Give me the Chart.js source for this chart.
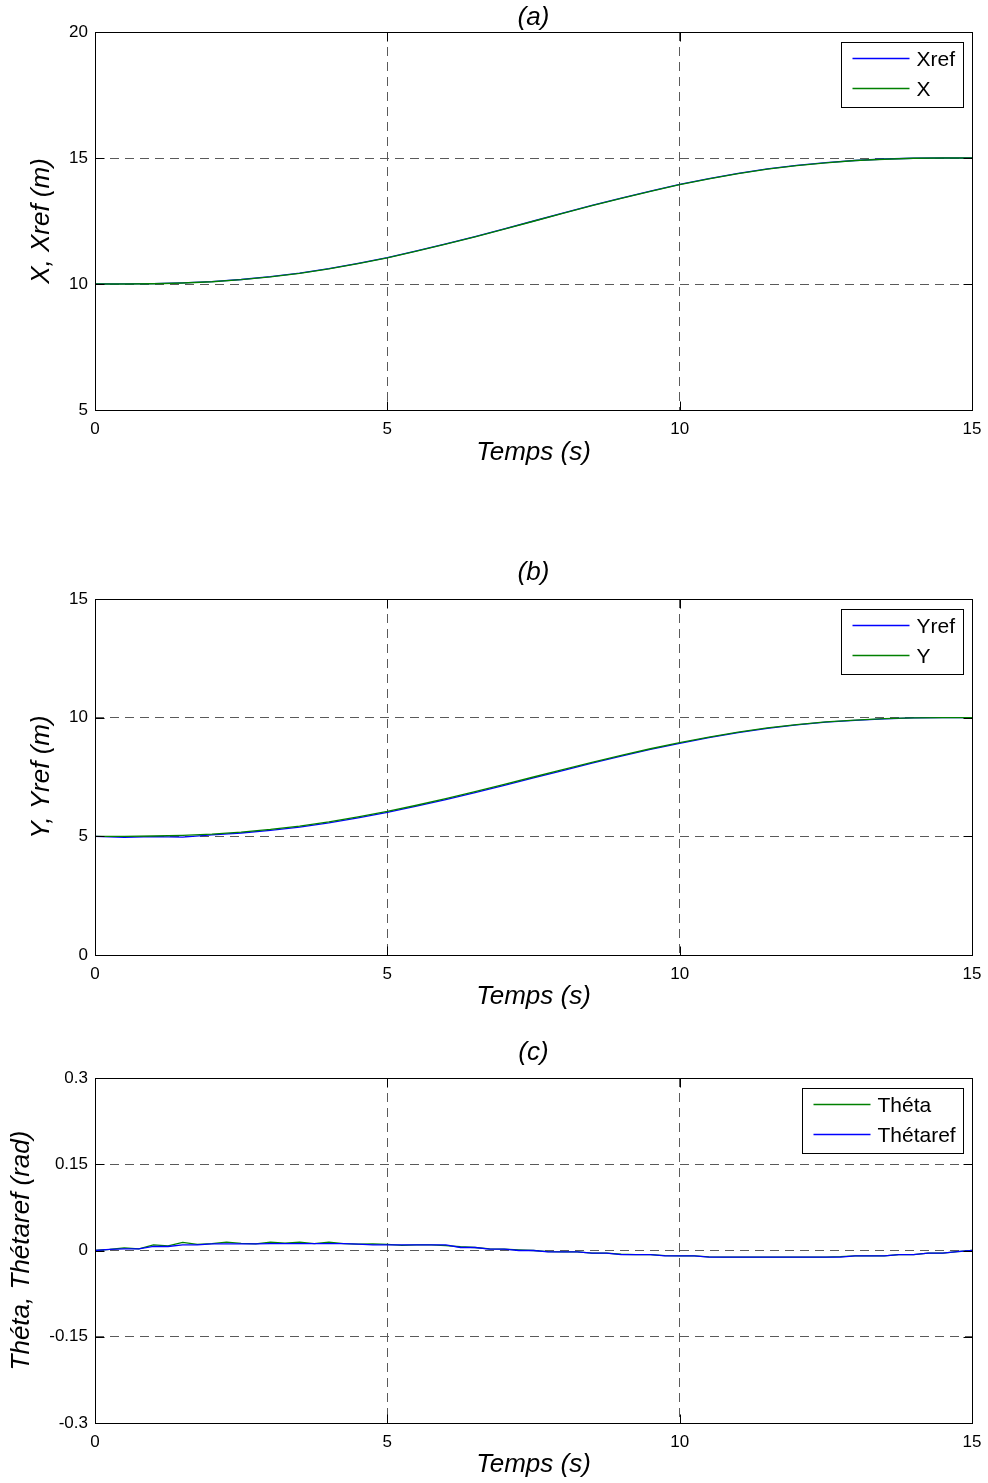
<!DOCTYPE html>
<html>
<head>
<meta charset="utf-8">
<title>Trajectoires X, Y, Théta</title>
<script src="https://cdn.jsdelivr.net/npm/chart.js@4.4.0/dist/chart.umd.min.js"></script>
<style>
    body { margin: 0; background: #fff; width: 988px; height: 1483px; position: relative; overflow: hidden; }
    canvas { position: absolute; left: 0; }
</style>
</head>
<body>
<canvas id="plotX" width="988" height="480" style="top:0px"></canvas>
<canvas id="plotY" width="988" height="470" style="top:555px"></canvas>
<canvas id="plotTheta" width="988" height="448" style="top:1035px"></canvas>
<script>
// temps (s)
const timeXY = [0, 0.5, 1, 1.5, 2, 2.5, 3, 3.5, 4, 4.5, 5, 5.5, 6, 6.5, 7, 7.5,
    8, 8.5, 9, 9.5, 10, 10.5, 11, 11.5, 12, 12.5, 13, 13.5, 14, 14.5, 15];

const xRef = [10, 10.002, 10.013, 10.043, 10.096, 10.178, 10.29, 10.43, 10.61, 10.82, 11.05,
    11.31, 11.59, 11.88, 12.19, 12.5, 12.81, 13.12, 13.41, 13.69, 13.95,
    14.18, 14.39, 14.57, 14.71, 14.82, 14.9, 14.96, 14.99, 15, 15];
const xReal = [10, 10.0, 10.01, 10.04, 10.09, 10.17, 10.28, 10.42, 10.6, 10.81, 11.04,
    11.3, 11.58, 11.87, 12.18, 12.49, 12.8, 13.11, 13.4, 13.68, 13.94,
    14.17, 14.38, 14.56, 14.7, 14.81, 14.9, 14.95, 14.99, 15, 15];

const yRef = [5, 4.96, 4.99, 4.97, 5.06, 5.14, 5.25, 5.39, 5.57, 5.78, 6.01,
    6.27, 6.55, 6.84, 7.15, 7.46, 7.77, 8.08, 8.38, 8.66, 8.92,
    9.16, 9.37, 9.55, 9.7, 9.81, 9.89, 9.95, 9.99, 10, 10];
const yReal = [5, 5.0, 5.013, 5.043, 5.096, 5.178, 5.29, 5.43, 5.61, 5.82, 6.05,
    6.31, 6.59, 6.88, 7.19, 7.5, 7.81, 8.12, 8.41, 8.69, 8.95,
    9.18, 9.39, 9.57, 9.71, 9.82, 9.9, 9.96, 9.99, 10, 10];

const timeTheta = [0, 0.25, 0.5, 0.75, 1, 1.25, 1.5, 1.75, 2, 2.25, 2.5, 2.75, 3, 3.25, 3.5, 3.75,
    4, 4.25, 4.5, 4.75, 5, 5.25, 5.5, 5.75, 6, 6.25, 6.5, 6.75, 7, 7.25, 7.5, 7.75,
    8, 8.25, 8.5, 8.75, 9, 9.25, 9.5, 9.75, 10, 10.25, 10.5, 10.75, 11, 11.25, 11.5, 11.75,
    12, 12.25, 12.5, 12.75, 13, 13.25, 13.5, 13.75, 14, 14.25, 14.5, 14.75, 15];
const thetaReal = [0, 0.002, 0.0046, 0.003, 0.0098, 0.008, 0.014, 0.0105, 0.012, 0.0145, 0.0125, 0.0116,
    0.0145, 0.013, 0.0145, 0.012, 0.0145, 0.012, 0.011, 0.0116, 0.0105, 0.009, 0.0098, 0.0098,
    0.0085, 0.0065, 0.0052, 0.003, 0.0023, 0.001, 0, -0.002, -0.0023, -0.0023, -0.0046, -0.0046,
    -0.0065, -0.007, -0.007, -0.0088, -0.0093, -0.0093, -0.0112, -0.0116, -0.0116, -0.0116,
    -0.0116, -0.0116, -0.0116, -0.0116, -0.0116, -0.0108, -0.0093, -0.0093, -0.0093, -0.007,
    -0.007, -0.0046, -0.0046, -0.002, 0];
const thetaRef = [0, 0.002, 0.003, 0.003, 0.007, 0.007, 0.0098, 0.0098, 0.0116, 0.0116, 0.0116, 0.0116,
    0.012, 0.012, 0.012, 0.012, 0.012, 0.012, 0.011, 0.0098, 0.0098, 0.0098, 0.0098, 0.0098,
    0.0098, 0.0052, 0.0052, 0.0023, 0.0023, 0, 0, -0.0023, -0.0023, -0.0023, -0.0046, -0.0046,
    -0.007, -0.007, -0.007, -0.0093, -0.0093, -0.0093, -0.0116, -0.0116, -0.0116, -0.0116,
    -0.0116, -0.0116, -0.0116, -0.0116, -0.0116, -0.0116, -0.0093, -0.0093, -0.0093, -0.007,
    -0.007, -0.0046, -0.0046, -0.002, 0];

const timeTicks = [0, 5, 10, 15];
const xTicks = [5, 10, 15, 20];
const yTicks = [0, 5, 10, 15];
const thetaTicks = [-0.3, -0.15, 0, 0.15, 0.3];

const BLUE = '#0000ff';
const GREEN = '#008000';
const FONT = '"Liberation Sans", Arial, sans-serif';

// cadre noir + petites graduations vers l'intérieur
const axesBox = {
    id: 'axesBox',
    afterDatasetsDraw(chart) {
        const {ctx, chartArea: a, scales} = chart;
        const L = Math.round(a.left) + 0.5, R = Math.round(a.right) + 0.5;
        const T = Math.round(a.top) + 0.5, B = Math.round(a.bottom) + 0.5;
        ctx.save();
        ctx.strokeStyle = '#000';
        ctx.lineWidth = 1;
        ctx.setLineDash([]);
        ctx.beginPath();
        scales.x.ticks.forEach(t => {
            const px = Math.round(scales.x.getPixelForValue(t.value)) + 0.5;
            ctx.moveTo(px, B); ctx.lineTo(px, B - 9);
            ctx.moveTo(px, T); ctx.lineTo(px, T + 9);
        });
        scales.y.ticks.forEach(t => {
            const py = Math.round(scales.y.getPixelForValue(t.value)) + 0.5;
            ctx.moveTo(L, py); ctx.lineTo(L + 9, py);
            ctx.moveTo(R, py); ctx.lineTo(R - 9, py);
        });
        ctx.stroke();
        ctx.strokeRect(L, T, R - L, B - T);
        ctx.restore();
    }
};

// légende encadrée en haut à droite
const boxLegend = {
    id: 'boxLegend',
    afterDraw(chart, args, opts) {
        const {ctx, chartArea: a} = chart;
        const items = opts.order.map(i => chart.data.datasets[i]);
        ctx.save();
        ctx.setLineDash([]);
        ctx.font = '21px ' + FONT;
        const textW = Math.max(...items.map(d => ctx.measureText(d.label).width));
        const w = Math.round(11 + 57 + 7 + textW + 8);
        const h = 65;
        const x = Math.round(a.right - 9 - w) + 0.5;
        const y = Math.round(a.top + 10) + 0.5;
        ctx.fillStyle = '#fff';
        ctx.fillRect(x, y, w, h);
        ctx.strokeStyle = '#000';
        ctx.lineWidth = 1;
        ctx.strokeRect(x, y, w, h);
        items.forEach((d, k) => {
            const ly = y + 16 + k * 30;
            ctx.strokeStyle = d.borderColor;
            ctx.lineWidth = 1.3;
            ctx.beginPath();
            ctx.moveTo(x + 11, ly);
            ctx.lineTo(x + 68, ly);
            ctx.stroke();
            ctx.fillStyle = '#000';
            ctx.textBaseline = 'middle';
            ctx.fillText(d.label, x + 75, ly + 1.5);
        });
        ctx.restore();
    }
};

Chart.register(axesBox, boxLegend);

function points(times, values){
    return times.map((t, i) => ({x: t, y: values[i]}));
}

function makePlot(canvasId, p){
    const tickFont = {family: FONT, size: 17};
    const titleFont = {family: FONT, size: 26, style: 'italic', weight: 'normal', lineHeight: 1};

    return new Chart(document.getElementById(canvasId), {
        type: 'line',
        data: {
            datasets: p.datasets.map(d => ({
                label: d.label,
                data: points(p.time, d.values),
                borderColor: d.color,
                borderWidth: 1.3,
                pointRadius: 0,
                tension: 0,
                order: d.order
            }))
        },
        options: {
            responsive: false,
            animation: false,
            events: [],
            layout: { padding: { left: 0, right: 16, top: 0, bottom: 0 } },
            plugins: {
                legend: { display: false },
                tooltip: { enabled: false },
                title: {
                    display: true,
                    fullSize: false,
                    text: p.title,
                    color: '#000',
                    font: titleFont,
                    padding: { top: 5, bottom: p.titleGap }
                },
                boxLegend: { order: p.legendOrder }
            },
            scales: {
                x: {
                    type: 'linear',
                    min: 0,
                    max: 15,
                    afterBuildTicks: s => { s.ticks = timeTicks.map(v => ({value: v})); },
                    // hauteur fixe, et pas de marge ajoutée pour les libellés des extrémités
                    afterFit: s => { s.height = p.xAxisHeight; s.paddingLeft = 0; s.paddingRight = 0; },
                    ticks: { color: '#000', font: tickFont, padding: 9, maxRotation: 0 },
                    grid: { color: '#5a5a5a', lineWidth: 1, drawTicks: false },
                    border: { display: false, dash: [9, 6] },
                    title: {
                        display: true,
                        text: 'Temps (s)',
                        color: '#000',
                        font: titleFont,
                        padding: { top: 0, bottom: p.xTitlePad }
                    }
                },
                y: {
                    type: 'linear',
                    min: p.yTicks[0],
                    max: p.yTicks[p.yTicks.length - 1],
                    afterBuildTicks: s => { s.ticks = p.yTicks.map(v => ({value: v})); },
                    afterFit: s => { s.width = 95; },
                    ticks: { color: '#000', font: tickFont, padding: 7, callback: v => String(v) },
                    grid: { color: '#5a5a5a', lineWidth: 1, drawTicks: false },
                    border: { display: false, dash: [9, 6] },
                    title: {
                        display: true,
                        text: p.yTitle,
                        color: '#000',
                        font: titleFont,
                        padding: { top: p.yTitlePad, bottom: 0 }
                    }
                }
            }
        }
    });
}

makePlot('plotX', {
    title: '(a)',
    titleGap: 1,
    time: timeXY,
    yTicks: xTicks,
    yTitle: 'X, Xref (m)',
    yTitlePad: 29,
    xTitlePad: 14,
    xAxisHeight: 70,
    legendOrder: [0, 1],
    datasets: [
        {label: 'Xref', values: xRef, color: BLUE, order: 1},
        {label: 'X', values: xReal, color: GREEN, order: 0}
    ]
});

makePlot('plotY', {
    title: '(b)',
    titleGap: 13,
    time: timeXY,
    yTicks: yTicks,
    yTitle: 'Y, Yref (m)',
    yTitlePad: 29,
    xTitlePad: 15,
    xAxisHeight: 70,
    legendOrder: [0, 1],
    datasets: [
        {label: 'Yref', values: yRef, color: BLUE, order: 1},
        {label: 'Y', values: yReal, color: GREEN, order: 0}
    ]
});

makePlot('plotTheta', {
    title: '(c)',
    titleGap: 12,
    time: timeTheta,
    yTicks: thetaTicks,
    yTitle: 'Théta, Thétaref (rad)',
    yTitlePad: 9,
    xTitlePad: 5,
    xAxisHeight: 60,
    legendOrder: [0, 1],
    datasets: [
        {label: 'Théta', values: thetaReal, color: GREEN, order: 1},
        {label: 'Thétaref', values: thetaRef, color: BLUE, order: 0}
    ]
});
</script>
</body>
</html>
